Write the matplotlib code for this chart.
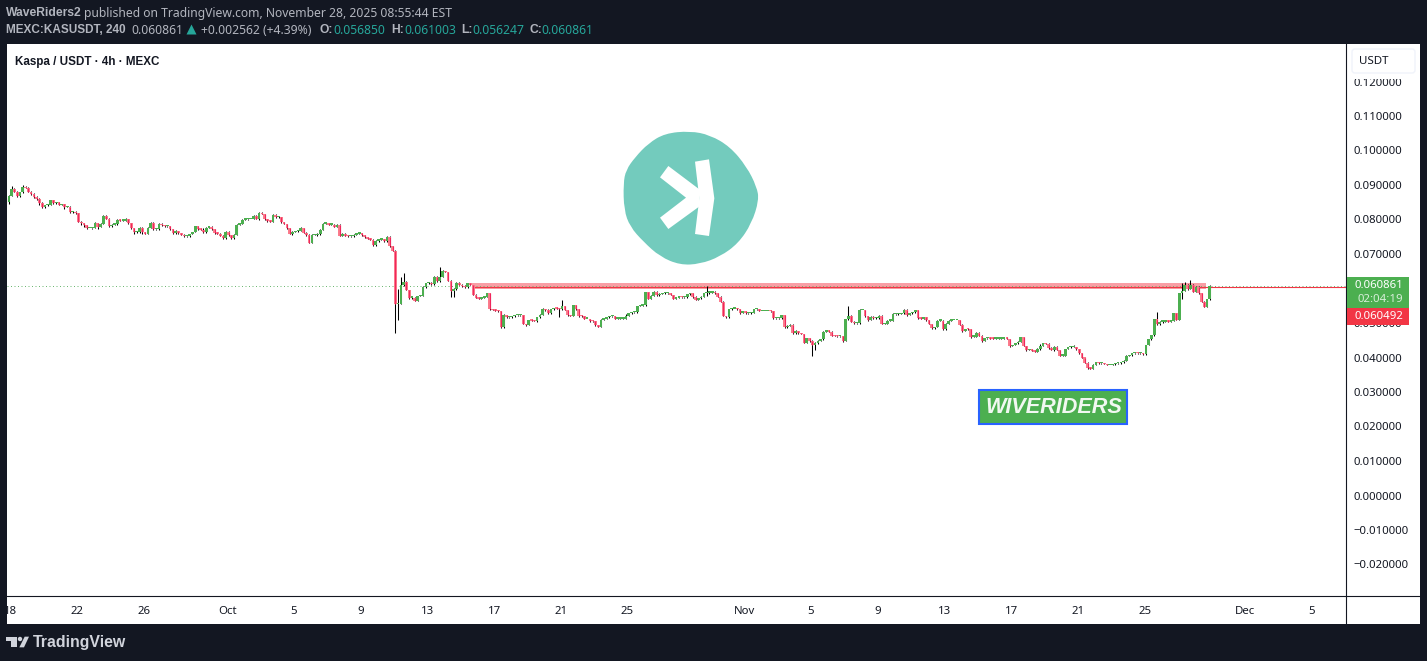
import pandas as pd
import numpy as np
from matplotlib import pyplot as plt
from matplotlib.patches import Rectangle, Polygon, PathPatch, Circle, FancyBboxPatch
from matplotlib.path import Path

W, H = 1427, 661
FONT = 'Noto Sans'
BOLD = 'Liberation Sans'
plt.rcParams['font.family'] = [FONT, 'DejaVu Sans']

# 4h closes
first_open = 0.0862
closes = [
    .0850, .0869, .0889, .0881, .0867, .0879, .0894, .0891, .0881, .0873,
    .0864, .0859, .0847, .0835, .0841, .0843, .0856, .0847, .0850, .0842,
    .0844, .0836, .0836, .0821, .0823, .0818, .0794, .0789, .0783, .0775,
    .0775, .0775, .0789, .0778, .0788, .0811, .0801, .0780, .0785, .0788,
    .0799, .0796, .0797, .0800, .0789, .0774, .0763, .0763, .0776, .0763,
    .0758, .0775, .0790, .0772, .0772, .0788, .0783, .0780, .0780, .0772,
    .0760, .0767, .0760, .0756, .0751, .0751, .0758, .0764, .0781, .0772,
    .0770, .0765, .0776, .0778, .0772, .0760, .0759, .0753, .0745, .0765,
    .0754, .0745, .0755, .0785, .0788, .0799, .0800, .0801, .0801, .0811,
    .0802, .0818, .0816, .0800, .0795, .0794, .0813, .0806, .0807, .0792,
    .0787, .0774, .0758, .0764, .0766, .0768, .0774, .0762, .0755, .0733,
    .0755, .0755, .0758, .0770, .0788, .0789, .0785, .0785, .0779, .0785,
    .0753, .0758, .0753, .0751, .0751, .0756, .0759, .0760, .0754, .0748,
    .0744, .0741, .0727, .0739, .0741, .0743, .0737, .0750, .0722, .0710,
    .0555, .0555, .0610, .0620, .0596, .0573, .0573, .0564, .0578, .0578,
    .0605, .0615, .0617, .0612, .0634, .0622, .0634, .0651, .0648, .0623,
    .0594, .0598, .0615, .0610, .0607, .0603, .0615, .0610, .0581, .0573,
    .0570, .0573, .0575, .0586, .0540, .0538, .0536, .0534, .0489, .0523,
    .0516, .0516, .0519, .0522, .0522, .0523, .0497, .0494, .0508, .0507,
    .0506, .0516, .0523, .0540, .0538, .0528, .0540, .0543, .0542, .0540,
    .0548, .0538, .0522, .0520, .0551, .0540, .0520, .0519, .0512, .0512,
    .0506, .0505, .0494, .0489, .0510, .0513, .0516, .0519, .0519, .0512,
    .0513, .0513, .0513, .0521, .0528, .0531, .0531, .0549, .0550, .0551,
    .0589, .0571, .0578, .0591, .0581, .0584, .0586, .0586, .0586, .0581,
    .0571, .0573, .0575, .0574, .0574, .0583, .0586, .0576, .0567, .0572,
    .0576, .0586, .0588, .0588, .0591, .0586, .0576, .0562, .0520, .0516,
    .0540, .0541, .0541, .0540, .0530, .0534, .0528, .0528, .0530, .0540,
    .0540, .0535, .0535, .0535, .0535, .0534, .0514, .0514, .0514, .0523,
    .0488, .0491, .0495, .0470, .0477, .0470, .0468, .0443, .0456, .0448,
    .0435, .0443, .0449, .0453, .0475, .0477, .0475, .0463, .0462, .0461,
    .0462, .0449, .0511, .0521, .0504, .0499, .0499, .0538, .0538, .0520,
    .0509, .0517, .0514, .0514, .0521, .0497, .0497, .0507, .0507, .0525,
    .0526, .0526, .0528, .0538, .0523, .0528, .0531, .0538, .0514, .0512,
    .0516, .0509, .0497, .0485, .0488, .0507, .0507, .0482, .0497, .0507,
    .0509, .0509, .0509, .0494, .0477, .0483, .0482, .0460, .0460, .0472,
    .0463, .0448, .0456, .0456, .0455, .0454, .0455, .0455, .0455, .0456,
    .0454, .0433, .0436, .0441, .0446, .0458, .0433, .0422, .0424, .0419,
    .0417, .0424, .0433, .0441, .0439, .0427, .0422, .0431, .0422, .0405,
    .0405, .0425, .0429, .0430, .0430, .0424, .0412, .0400, .0385, .0369,
    .0368, .0378, .0386, .0383, .0383, .0381, .0378, .0378, .0380, .0383,
    .0383, .0386, .0391, .0404, .0406, .0412, .0413, .0412, .0412, .0409,
    .0436, .0453, .0464, .0511, .0496, .0504, .0504, .0507, .0504, .0507,
    .0528, .0510, .0586, .0594, .0610, .0600, .0609, .0591, .0605, .0586,
    .0562, .0547, .05685, .060861,
]
# wick above / below the body, in units of 0.0001
upper = [
    1, 2, 9, 1, 1, 1, 7, 4, 4, 2,
    3, 3, 2, 4, 1, 2, 1, 1, 1, 1,
    1, 1, 2, 2, 1, 2, 2, 2, 1, 1,
    1, 1, 3, 2, 1, 1, 1, 3, 1, 2,
    2, 2, 1, 4, 1, 1, 2, 4, 2, 3,
    1, 2, 3, 2, 1, 3, 1, 1, 1, 1,
    1, 2, 1, 1, 1, 1, 1, 1, 1, 1,
    2, 4, 3, 1, 2, 1, 2, 2, 2, 3,
    2, 1, 2, 1, 2, 1, 1, 1, 1, 2,
    3, 3, 3, 1, 1, 1, 2, 3, 2, 1,
    1, 1, 1, 2, 1, 3, 3, 1, 1, 3,
    3, 3, 3, 3, 3, 3, 2, 3, 3, 1,
    3, 2, 2, 1, 1, 2, 3, 2, 1, 2,
    1, 2, 3, 3, 3, 2, 1, 1, 2, 2,
    1, 45, 22, 24, 1, 1, 1, 3, 1, 4,
    2, 2, 3, 2, 3, 3, 27, 4, 1, 1,
    3, 3, 4, 4, 3, 2, 2, 1, 1, 2,
    1, 2, 1, 1, 1, 2, 1, 1, 1, 2,
    1, 2, 2, 1, 1, 1, 1, 1, 1, 1,
    1, 1, 2, 3, 2, 2, 2, 1, 2, 1,
    18, 2, 1, 2, 1, 1, 2, 2, 2, 1,
    1, 1, 1, 1, 3, 2, 1, 2, 1, 1,
    1, 1, 1, 4, 2, 1, 1, 1, 1, 1,
    1, 2, 3, 2, 3, 2, 1, 3, 1, 2,
    1, 2, 1, 1, 1, 1, 2, 2, 1, 1,
    2, 1, 20, 3, 1, 1, 1, 1, 1, 1,
    1, 2, 1, 2, 1, 1, 1, 2, 2, 1,
    1, 2, 1, 1, 1, 1, 1, 1, 1, 1,
    1, 2, 1, 1, 2, 1, 1, 1, 1, 1,
    2, 1, 1, 1, 1, 3, 1, 1, 1, 1,
    1, 1, 1, 28, 3, 1, 1, 3, 1, 1,
    1, 2, 2, 3, 2, 1, 2, 1, 1, 3,
    1, 3, 2, 4, 2, 1, 2, 1, 1, 1,
    2, 2, 1, 1, 1, 2, 1, 1, 2, 1,
    1, 1, 1, 1, 2, 1, 3, 1, 2, 1,
    1, 1, 1, 1, 1, 2, 1, 1, 1, 1,
    1, 1, 1, 1, 2, 1, 1, 1, 1, 2,
    1, 3, 7, 1, 1, 2, 2, 1, 1, 1,
    1, 1, 2, 2, 6, 1, 1, 1, 1, 1,
    1, 3, 2, 2, 1, 1, 1, 1, 1, 1,
    2, 2, 3, 3, 2, 2, 1, 1, 1, 1,
    1, 2, 2, 1, 20, 3, 2, 2, 1, 1,
    2, 1, 1, 23, 8, 3, 16, 3, 3, 1,
    1, 1, 1, 1.4,
]
lower = [
    4, 4, 1, 1, 1, 1, 1, 1, 2, 1,
    2, 3, 4, 1, 1, 1, 1, 1, 1, 1,
    1, 5, 1, 2, 1, 1, 2, 5, 6, 3,
    1, 2, 1, 5, 1, 1, 1, 1, 1, 1,
    3, 1, 1, 1, 1, 2, 4, 2, 3, 6,
    1, 1, 1, 2, 3, 1, 1, 1, 1, 3,
    1, 2, 2, 1, 1, 2, 1, 1, 1, 1,
    1, 4, 4, 1, 1, 2, 1, 1, 1, 1,
    1, 1, 1, 1, 1, 1, 1, 1, 1, 1,
    1, 2, 1, 1, 1, 1, 2, 3, 3, 1,
    1, 1, 1, 3, 1, 1, 1, 1, 2, 1,
    1, 1, 2, 2, 1, 2, 1, 1, 1, 1,
    1, 2, 2, 1, 1, 2, 2, 1, 1, 1,
    1, 1, 3, 3, 3, 1, 1, 1, 3, 2,
    83, 46, 0, 2, 1, 2, 3, 1, 1, 1,
    1, 4, 1, 2, 2, 4, 3, 1, 1, 1,
    20, 20, 1, 1, 3, 2, 2, 1, 1, 1,
    1, 1, 1, 1, 1, 1, 1, 1, 3, 3,
    1, 1, 1, 1, 1, 1, 1, 2, 1, 1,
    1, 3, 2, 1, 4, 1, 1, 2, 1, 24,
    1, 1, 2, 1, 1, 1, 2, 1, 1, 1,
    2, 1, 3, 2, 1, 1, 1, 1, 1, 1,
    1, 1, 1, 1, 1, 1, 1, 1, 1, 1,
    1, 1, 2, 1, 2, 2, 1, 2, 1, 1,
    1, 1, 1, 1, 1, 2, 1, 3, 1, 1,
    1, 1, 7, 3, 2, 1, 1, 1, 1, 1,
    1, 1, 1, 1, 3, 1, 2, 1, 1, 1,
    1, 1, 1, 1, 1, 1, 2, 1, 1, 1,
    2, 2, 1, 2, 3, 1, 1, 2, 1, 3,
    32, 13, 3, 1, 1, 1, 1, 1, 1, 1,
    1, 3, 1, 1, 1, 2, 2, 1, 1, 2,
    2, 1, 2, 1, 1, 1, 1, 1, 1, 2,
    1, 2, 1, 1, 2, 1, 1, 1, 1, 1,
    1, 2, 1, 1, 2, 1, 1, 2, 1, 1,
    1, 1, 1, 1, 3, 1, 2, 3, 1, 1,
    1, 2, 1, 1, 1, 1, 1, 1, 1, 1,
    1, 2, 1, 1, 1, 1, 1, 2, 1, 1,
    1, 1, 1, 1, 1, 2, 1, 2, 1, 1,
    1, 1, 1, 1, 1, 2, 1, 2, 1, 1,
    1, 1, 1, 1, 1, 1, 1, 1, 1, 1,
    1, 1, 1, 1, 1, 1, 1, 1, 1, 1,
    1, 1, 1, 1, 1, 1, 3, 1, 1, 1,
    1, 1, 1, 17, 2, 3, 1, 1, 1, 1,
    2, 1, 1, 1,
]

# 0.06 sits fully under the price tags in the reference, so it carries no label
y_ticks = [.12, .11, .10, .09, .08, .07, .05, .04, .03, .02, .01, 0, -.01, -.02]
date_ticks = ['2025-09-18', '2025-09-22', '2025-09-26', '2025-10-01', '2025-10-05', '2025-10-09',
              '2025-10-13', '2025-10-17', '2025-10-21', '2025-10-25', '2025-11-01', '2025-11-05',
              '2025-11-09', '2025-11-13', '2025-11-17', '2025-11-21', '2025-11-25', '2025-12-01',
              '2025-12-05']
date_labels = ['18', '22', '26', 'Oct', '5', '9', '13', '17', '21', '25', 'Nov', '5', '9', '13', '17',
               '21', '25', 'Dec', '5']
first_bar = pd.Timestamp('2025-09-17 18:00')
last_price = 0.060861
line_price = 0.060492
zone_low, zone_high = 0.0599, 0.0616
zone_start, zone_end = pd.Timestamp('2025-10-15 16:00'), pd.Timestamp('2025-11-28 16:00')

BG = '#131722'
GREEN = '#4caf50'
TEAL = '#26a69a'
GREY = '#b2b5be'
HEAD = 8.75


def bar_pos(ts):
    return (pd.Timestamp(ts) - first_bar) / pd.Timedelta(hours=4)


def fx(x):
    return x / W


def fy(y):
    return 1 - y / H


closes = np.array(closes)
opens = np.r_[first_open, closes[:-1]]
top = np.maximum(opens, closes)
bot = np.minimum(opens, closes)
highs = top + np.array(upper) * 1e-4
lows = bot - np.array(lower) * 1e-4
idx = np.arange(len(closes))
is_up = closes >= opens

fig = plt.figure(figsize=(W / 100, H / 100), dpi=100, facecolor=BG)

# white panel behind pane and both scales
fig.patches.append(Rectangle((fx(7), fy(624)), fx(1413), 580 / H, transform=fig.transFigure,
                             facecolor='white', edgecolor='none', zorder=-5))

ax = fig.add_axes([fx(7), fy(596), fx(1339), 552 / H], facecolor='none')
px_per_bar = 2.78
ax.set_xlim(0.32, 1339 / px_per_bar + 0.32)
ax.set_ylim((495.5 - 596) / 3450, (495.5 - 44) / 3450)

for s in ['top', 'left']:
    ax.spines[s].set_visible(False)
ax.spines['right'].set_color(BG)
ax.spines['bottom'].set_color(BG)
ax.spines['right'].set_linewidth(0.8)
ax.spines['bottom'].set_linewidth(0.8)

# level zone, its line and the last price line
ax.fill_between([bar_pos(zone_start), bar_pos(zone_end)], zone_low, zone_high, color='#f99ea5', lw=0, zorder=1)
ax.axhline(last_price, color='#6fb874', lw=0.72, ls=(0, (1, 2.5)), zorder=2)
ax.plot([bar_pos(zone_start), ax.get_xlim()[1]], [line_price, line_price], color='#f23645', lw=0.8, zorder=2.5)

# candles
ax.vlines(idx, lows, highs, color='black', lw=0.75, zorder=3)
min_h = 0.0004
heights = np.maximum(top - bot, min_h)
ax.bar(idx[is_up], heights[is_up], bottom=bot[is_up], width=0.98, color=GREEN, lw=0, zorder=4)
ax.bar(idx[~is_up], heights[~is_up], bottom=bot[~is_up], width=0.98, color='#fb7c8c', lw=0, zorder=4)
ax.vlines(idx[~is_up], bot[~is_up], bot[~is_up] + heights[~is_up], color='#f0265c', lw=0.8, zorder=5)

# scales
ax.yaxis.tick_right()
ax.set_yticks(y_ticks)
ax.set_yticklabels(['\u2212%.6f' % abs(v) if v < 0 else '%.6f' % v for v in y_ticks])
ax.set_xticks([bar_pos(d) for d in date_ticks])
ax.set_xticklabels(date_labels)
ax.tick_params(axis='both', length=0, labelsize=8.2, labelcolor=BG)
ax.tick_params(axis='y', pad=5.5)
ax.tick_params(axis='x', pad=7)
panel_clip = Rectangle((7, 0), 1413, H, transform=None)
for lab in ax.get_xticklabels():
    lab.set_clip_box(panel_clip.get_bbox())
    lab.set_clip_on(True)

# overlay axes in pixel coordinates for the drawn furniture
ov = fig.add_axes([0, 0, 1, 1], facecolor='none', zorder=10)
ov.set_xlim(0, W)
ov.set_ylim(H, 0)
ov.axis('off')

# x scale line reaches the panel edge
ov.plot([1346, 1420], [596, 596], color=BG, lw=0.8)
ov.plot([1346, 1346], [596, 624], color=BG, lw=0.8)

# logo
outline = [(40, 190), (48, 150), (75, 112), (115, 70), (165, 40), (240, 33), (300, 45), (360, 80),
           (410, 140), (440, 200), (447, 240), (425, 310), (385, 370), (330, 410), (270, 432),
           (210, 435), (150, 410), (100, 365), (60, 320), (42, 270)]
outline = np.array([(610 + a / 3, 120 + b / 3) for a, b in outline])
mids = (outline + np.roll(outline, -1, axis=0)) / 2
verts = [mids[-1]]
codes = [Path.MOVETO]
for p, m in zip(outline, mids):
    verts += [p, m]
    codes += [Path.CURVE3, Path.CURVE3]
ov.add_patch(PathPatch(Path(verts, codes), facecolor='#73cbbd', edgecolor='none'))
stroke = [(255, 125), (297, 118), (313, 235), (297, 348), (255, 342), (268, 235)]
chevron = [(175, 138), (268, 208), (270, 258), (175, 327), (150, 293), (228, 233), (150, 172)]
for shape in (stroke, chevron):
    ov.add_patch(Polygon([(610 + a / 3, 120 + b / 3) for a, b in shape], facecolor='white', edgecolor='none'))

# WIVERIDERS box
ov.add_patch(Rectangle((979, 390), 148, 34, facecolor=GREEN, edgecolor='#2962ff', lw=1.5))
ov.text(1053.5, 407.5, 'WIVERIDERS', color='#f1f8f1', fontsize=15.6, family=BOLD, fontweight='bold',
        fontstyle='italic', ha='center', va='center')

# price tags, labels of the scale run underneath
ov.add_patch(FancyBboxPatch((1352, 49), 63, 24, boxstyle='round,pad=0,rounding_size=3',
                            facecolor='white', edgecolor='#f0f3fa', lw=1))
ov.add_patch(Rectangle((1351, 73.5), 65, 5, facecolor='white', edgecolor='none'))
ov.text(1359, 61.5, 'USDT', color=BG, fontsize=8.3, va='center')
ov.add_patch(Rectangle((1347, 277), 62, 32, facecolor=GREEN, edgecolor='none'))
ov.add_patch(Rectangle((1347, 308), 62, 17, facecolor='#f23645', edgecolor='none'))
ov.text(1403, 285, '%.6f' % last_price, color='white', fontsize=8.2, ha='right', va='center')
ov.text(1403, 299, '02:04:19', color='#d7eed8', fontsize=8.2, ha='right', va='center')
ov.text(1403, 316.5, '%.6f' % line_price, color='white', fontsize=8.2, ha='right', va='center')

# header
ov.text(15, 61.5, 'Kaspa / USDT \u00b7 4h \u00b7 MEXC', color=BG, fontsize=8.4, family=BOLD, fontweight='bold',
        va='center')
ov.text(6, 13.5, 'WaveRiders2', color=GREY, fontsize=HEAD, family=BOLD, fontweight='bold', va='center')
ov.text(84, 13.5, 'published on TradingView.com, November 28, 2025 08:55:44 EST', color=GREY, fontsize=HEAD,
        va='center')
row = 30
ov.text(6, row, 'MEXC:KASUSDT, 240', color=GREY, fontsize=8.5, family=BOLD, fontweight='bold', va='center')
ov.text(131, row, '0.060861', color=GREY, fontsize=HEAD, va='center')
ov.add_patch(Polygon([(186.5, 34.5), (196.5, 34.5), (191.5, 24.5)], facecolor=TEAL, edgecolor='none'))
ov.text(201, row, '+0.002562 (+4.39%)', color=GREY, fontsize=HEAD, va='center')
for x_lab, lab, x_val, val in [(319, 'O:', 333, '0.056850'), (391, 'H:', 404, '0.061003'),
                               (461, 'L:', 472, '0.056247'), (529, 'C:', 541, '0.060861')]:
    ov.text(x_lab, row, lab, color=GREY, fontsize=HEAD, family=BOLD, fontweight='bold', va='center')
    ov.text(x_val, row, val, color=TEAL, fontsize=HEAD, va='center')

# footer logo
FOOT = '#d1d4dc'
logo_pts = [[(18, 140), (50, 140), (50, 172), (34, 172), (34, 153), (18, 153)],
            [(74, 140), (87, 140), (72, 172), (58, 172)]]
for shape in logo_pts:
    ov.add_patch(Polygon([(a / 3, 590 + b / 3) for a, b in shape], facecolor=FOOT, edgecolor='none'))
ov.add_patch(Circle((60 / 3, 590 + 147 / 3), 2.2, facecolor=FOOT, edgecolor='none'))
ov.text(33, 642.5, 'TradingView', color=FOOT, fontsize=11.4, family=BOLD, fontweight='bold', va='center')

fig.savefig('out.png', dpi=100, facecolor=BG)
